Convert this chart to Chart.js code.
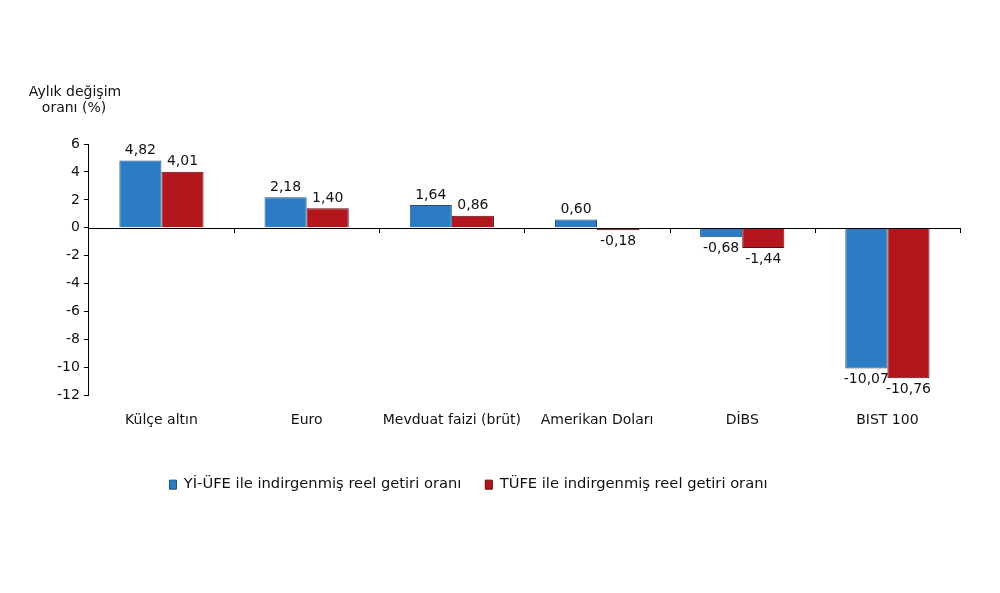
<!DOCTYPE html>
<html><head><meta charset="utf-8">
<script src="https://cdn.jsdelivr.net/npm/chart.js@4.4.1/dist/chart.umd.min.js"></script>
<style>html,body{margin:0;padding:0;background:#fff}#wrap{width:1000px;height:593px}</style>
</head><body><div id="wrap"><canvas id="c" width="1000" height="593"></canvas></div>
<script>
const categories = ["Külçe altın", "Euro", "Mevduat faizi (brüt)", "Amerikan Doları", "DİBS", "BIST 100"];
const yiUfe = [4.82, 2.18, 1.64, 0.60, -0.68, -10.07];
const tufe = [4.01, 1.40, 0.86, -0.18, -1.44, -10.76];
const seriesNames = ["Yİ-ÜFE ile indirgenmiş reel getiri oranı", "TÜFE ile indirgenmiş reel getiri oranı"];
const yTicks = [6, 4, 2, 0, -2, -4, -6, -8, -10, -12];
const axisTitle = ["Aylık değişim", "oranı (%)"];

const FONT = "'DejaVu Sans', 'Liberation Sans', Arial, sans-serif";

const labelPlugin = {
  id: 'labels',
  afterLayout(chart) {
    if (chart.legend) { chart.legend.left -= 38; chart.legend.right -= 38; }
  },
  afterDatasetsDraw(chart) {
    const ctx = chart.ctx;
    ctx.save();
    ctx.font = "14px " + FONT;
    ctx.fillStyle = '#111';
    ctx.textAlign = 'center';
    chart.data.datasets.forEach((ds, i) => {
      const meta = chart.getDatasetMeta(i);
      meta.data.forEach((bar, j) => {
        const v = ds.data[j];
        const txt = v.toFixed(2).replace('.', ',');
        if (v >= 0) {
          ctx.textBaseline = 'bottom';
          ctx.fillText(txt, bar.x, bar.y - 3);
        } else {
          ctx.textBaseline = 'top';
          ctx.fillText(txt, bar.x, bar.y + 4);
        }
      });
    });
    const xs = chart.scales.x, ys = chart.scales.y;
    const y0 = Math.round(ys.getPixelForValue(0));
    ctx.strokeStyle = '#000';
    ctx.lineWidth = 1;
    ctx.beginPath();
    ctx.moveTo(chart.chartArea.left, y0 + 0.5);
    ctx.lineTo(chart.chartArea.right, y0 + 0.5);
    const n = categories.length;
    for (let k = 1; k <= n; k++) {
      const x = Math.round(xs.getPixelForValue(k - 0.5)) + 0.5;
      ctx.moveTo(x, y0);
      ctx.lineTo(x, y0 + 5);
    }
    ctx.stroke();
    ctx.font = "14px " + FONT;
    ctx.textAlign = 'center';
    ctx.textBaseline = 'alphabetic';
    ctx.fillStyle = '#111';
    ctx.fillText(axisTitle[0], 75, 96);
    ctx.fillText(axisTitle[1], 74, 112);
    ctx.restore();
  }
};

new Chart(document.getElementById('c'), {
  type: 'bar',
  data: {
    labels: categories,
    datasets: [
      { label: seriesNames[0], data: yiUfe, backgroundColor: '#2b7cc4', borderColor: '#1f4f7a', borderWidth: 1, categoryPercentage: 0.58, barPercentage: 1 },
      { label: seriesNames[1], data: tufe, backgroundColor: '#b3161c', borderColor: '#5a0e10', borderWidth: 1, categoryPercentage: 0.58, barPercentage: 1 }
    ]
  },
  options: {
    responsive: false,
    animation: false,
    layout: { padding: { left: 53, right: 40, top: 144, bottom: 91 } },
    plugins: {
      legend: {
        position: 'bottom',
        labels: {
          font: { family: FONT, size: 14.7 }, color: '#111',
          boxWidth: 7, boxHeight: 9, padding: 24
        }
      },
      tooltip: { enabled: false }
    },
    scales: {
      x: {
        grid: { display: false },
        border: { display: false },
        afterFit: s => { s.height += 17; },
        ticks: { font: { family: FONT, size: 14 }, color: '#111', padding: 8, maxRotation: 0 }
      },
      y: {
        min: -12, max: 6,
        afterBuildTicks: s => { s.ticks = yTicks.map(v => ({ value: v })); },
        grid: { display: true, drawOnChartArea: false, drawTicks: true, tickLength: 5, color: '#000' },
        border: { display: true, color: '#000' },
        ticks: { font: { family: FONT, size: 14 }, color: '#111', padding: 4 }
      }
    }
  },
  plugins: [labelPlugin]
});
</script></body></html>
